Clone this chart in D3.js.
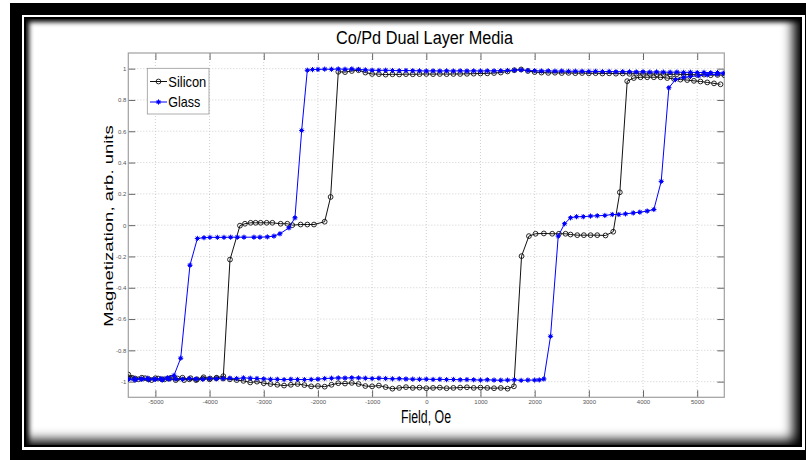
<!DOCTYPE html>
<html>
<head>
<meta charset="utf-8">
<script src="https://cdn.jsdelivr.net/npm/d3@7"></script>
<style>
  html, body { margin: 0; padding: 0; background: #fff; }
  #page { position: relative; width: 806px; height: 460px; overflow: hidden; }
  .frame-outer { position: absolute; left: 10px; top: 3px; width: 796px; height: 457px; background: #000; }
  .frame-line { position: absolute; left: 22px; top: 15px; width: 783px; height: 435px; background: #fff; }
  .frame-inner { position: absolute; left: 24px; top: 17px; width: 778px; height: 430px; box-sizing: border-box;
    background: #fff; border: 2px solid #000;
    box-shadow: inset 3px 3px 5px #000, inset -9px -7px 12px -2px #000; }
  svg { position: absolute; left: 0; top: 0; }
  text { font-family: "Liberation Sans", Arial, sans-serif; }
</style>
</head>
<body>
<div id="page">
  <div class="frame-outer"></div>
  <div class="frame-line"></div>
  <div class="frame-inner"></div>
</div>
<script>
// Co/Pd dual layer hysteresis loops, [field (Oe), magnetization (arb.)]
const siliconDown = [
  [5500,0.958],[5375,0.96],[5250,0.958],[5125,0.962],[5000,0.96],[4875,0.963],[4750,0.962],[4625,0.965],
  [4500,0.963],[4375,0.966],[4250,0.965],[4125,0.967],[4000,0.966],[3875,0.968],[3750,0.967],[3625,0.969],
  [3500,0.968],[3375,0.97],[3250,0.969],[3125,0.971],[3000,0.97],[2875,0.972],[2750,0.971],[2625,0.973],
  [2500,0.972],[2375,0.974],[2250,0.973],[2125,0.975],[2000,0.978],[1875,0.985],[1750,0.995],[1625,0.99],
  [1500,0.982],[1375,0.975],[1250,0.972],[1125,0.97],[1000,0.969],[875,0.968],[750,0.967],[625,0.966],
  [500,0.966],[375,0.965],[250,0.966],[125,0.965],[0,0.966],[-125,0.965],[-250,0.964],[-375,0.965],
  [-500,0.963],[-625,0.964],[-750,0.962],[-875,0.965],[-1000,0.966],[-1125,0.975],[-1250,0.99],[-1375,0.985],
  [-1500,0.978],[-1624,0.98],[-1766,0.18],[-1876,0.022],[-2073,0.004],[-2196,0.004],[-2319,0.004],[-2473,0.0],
  [-2565,0.009],[-2688,0.009],[-2841,0.015],[-2946,0.015],[-3057,0.015],[-3150,0.015],[-3242,0.015],[-3347,0.009],
  [-3439,-0.003],[-3623,-0.22],[-3746,-0.965],[-3870,-0.975],[-3990,-0.98],[-4110,-0.972],[-4230,-0.985],[-4350,-0.978],
  [-4470,-0.99],[-4590,-0.98],[-4710,-0.975],[-4830,-0.985],[-4950,-0.98],[-5070,-0.99],[-5190,-0.978],[-5310,-0.985],
  [-5430,-0.975],[-5500,-0.98]
];
const siliconUp = [
  [-5500,-0.955],[-5375,-0.98],[-5250,-0.975],[-5125,-0.985],[-5000,-0.978],[-4875,-0.985],[-4750,-0.98],[-4625,-0.99],
  [-4500,-0.975],[-4375,-0.985],[-4250,-0.99],[-4125,-0.98],[-4000,-0.985],[-3875,-0.978],[-3750,-0.98],[-3625,-0.985],
  [-3500,-0.99],[-3375,-0.995],[-3250,-1.005],[-3125,-1.0],[-3000,-1.01],[-2875,-1.015],[-2750,-1.02],[-2625,-1.025],
  [-2500,-1.02],[-2375,-1.015],[-2250,-1.022],[-2125,-1.03],[-2000,-1.028],[-1875,-1.032],[-1750,-1.02],[-1625,-1.01],
  [-1500,-1.012],[-1375,-1.008],[-1250,-1.015],[-1125,-1.028],[-1000,-1.03],[-875,-1.025],[-750,-1.035],[-625,-1.045],
  [-500,-1.04],[-375,-1.035],[-250,-1.04],[-125,-1.038],[0,-1.042],[125,-1.04],[250,-1.038],[375,-1.042],
  [500,-1.04],[625,-1.038],[750,-1.036],[875,-1.04],[1000,-1.038],[1125,-1.04],[1250,-1.042],[1375,-1.04],
  [1500,-1.045],[1617,-1.03],[1758,-0.198],[1894,-0.07],[2017,-0.055],[2170,-0.053],[2324,-0.055],[2447,-0.055],
  [2570,-0.055],[2662,-0.06],[2786,-0.064],[2908,-0.064],[3032,-0.064],[3155,-0.064],[3308,-0.066],[3450,-0.042],
  [3572,0.21],[3708,0.92],[3830,0.94],[3954,0.945],[4077,0.945],[4200,0.945],[4323,0.945],[4447,0.94],
  [4570,0.935],[4690,0.93],[4815,0.927],[4940,0.922],[5060,0.918],[5185,0.912],[5310,0.906],[5430,0.9]
];
const glassDown = [
  [5500,0.972],[5375,0.975],[5250,0.974],[5125,0.976],[5000,0.975],[4875,0.977],[4750,0.976],[4625,0.978],
  [4500,0.977],[4375,0.978],[4250,0.979],[4125,0.978],[4000,0.98],[3875,0.979],[3750,0.98],[3625,0.981],
  [3500,0.98],[3375,0.982],[3250,0.981],[3125,0.983],[3000,0.982],[2875,0.983],[2750,0.984],[2625,0.983],
  [2500,0.985],[2375,0.984],[2250,0.986],[2125,0.985],[2000,0.987],[1875,0.988],[1750,0.992],[1625,0.99],
  [1500,0.988],[1375,0.987],[1250,0.986],[1125,0.986],[1000,0.985],[875,0.986],[750,0.985],[625,0.986],
  [500,0.985],[375,0.986],[250,0.985],[125,0.986],[0,0.985],[-125,0.986],[-250,0.987],[-375,0.988],
  [-500,0.987],[-625,0.988],[-750,0.99],[-875,0.989],[-1000,0.99],[-1125,0.992],[-1250,0.995],[-1375,0.998],
  [-1500,0.996],[-1625,0.998],[-1750,0.996],[-1875,0.997],[-2000,0.995],[-2100,0.994],[-2196,0.99],[-2300,0.605],
  [-2424,0.047],[-2535,-0.017],[-2701,-0.055],[-2812,-0.07],[-2934,-0.075],[-3070,-0.077],[-3181,-0.077],[-3365,-0.077],
  [-3488,-0.077],[-3611,-0.077],[-3734,-0.078],[-3856,-0.078],[-3993,-0.078],[-4103,-0.08],[-4225,-0.085],[-4362,-0.256],
  [-4533,-0.85],[-4656,-0.96],[-4780,-0.975],[-4900,-0.98],[-5020,-0.985],[-5140,-0.978],[-5260,-0.983],[-5380,-0.98],
  [-5500,-0.985]
];
const glassUp = [
  [-5500,-0.985],[-5375,-0.99],[-5250,-0.985],[-5125,-0.988],[-5000,-0.985],[-4875,-0.99],[-4750,-0.985],[-4625,-0.983],
  [-4500,-0.985],[-4375,-0.98],[-4250,-0.983],[-4125,-0.985],[-4000,-0.98],[-3875,-0.982],[-3750,-0.98],[-3625,-0.978],
  [-3500,-0.98],[-3375,-0.976],[-3250,-0.978],[-3125,-0.98],[-3000,-0.982],[-2875,-0.985],[-2750,-0.985],[-2625,-0.987],
  [-2500,-0.985],[-2375,-0.986],[-2250,-0.987],[-2125,-0.986],[-2000,-0.984],[-1875,-0.98],[-1750,-0.978],[-1625,-0.976],
  [-1500,-0.977],[-1375,-0.975],[-1250,-0.976],[-1125,-0.978],[-1000,-0.98],[-875,-0.978],[-750,-0.98],[-625,-0.982],
  [-500,-0.981],[-375,-0.983],[-250,-0.984],[-125,-0.985],[0,-0.984],[125,-0.986],[250,-0.985],[375,-0.987],
  [500,-0.986],[625,-0.988],[750,-0.987],[875,-0.988],[1000,-0.99],[1125,-0.988],[1250,-0.99],[1375,-0.991],
  [1500,-0.99],[1625,-0.988],[1750,-0.992],[1875,-0.99],[2000,-0.99],[2085,-0.989],[2170,-0.983],[2293,-0.71],
  [2435,-0.07],[2552,0.009],[2662,0.047],[2773,0.054],[2897,0.054],[3031,0.058],[3155,0.06],[3296,0.062],
  [3432,0.068],[3554,0.068],[3677,0.072],[3819,0.078],[3941,0.083],[4077,0.09],[4200,0.1],[4336,0.28],
  [4477,0.878],[4600,0.93],[4753,0.945],[4877,0.95],[5030,0.955],[5185,0.96],[5369,0.965],[5490,0.97]
];

const seriesNames = ['Silicon', 'Glass'];
const seriesColors = ['#111111', '#0000ff'];
const xTicks = [-5000, -4000, -3000, -2000, -1000, 0, 1000, 2000, 3000, 4000, 5000];
const yTicks = [-1, -0.8, -0.6, -0.4, -0.2, 0, 0.2, 0.4, 0.6, 0.8, 1];

const plot = {left: 128.3, right: 724.3, top: 53, bottom: 397.3};

const svg = d3.select('#page').append('svg')
  .attr('width', 806)
  .attr('height', 460);

const x = d3.scaleLinear().domain([-5500, 5500]).range([plot.left, plot.right]);
const y = d3.scaleLinear().domain([-1.1, 1.1]).range([plot.bottom, plot.top]);

// plot background
svg.append('rect')
  .attr('x', plot.left).attr('y', plot.top)
  .attr('width', plot.right - plot.left).attr('height', plot.bottom - plot.top)
  .attr('fill', '#fff');

// dotted grid
const grid = svg.append('g').attr('stroke', '#c4c4c4').attr('stroke-width', 0.8).attr('stroke-dasharray', '1,2');
grid.selectAll('.gx').data(xTicks).enter().append('line')
  .attr('x1', d => x(d)).attr('x2', d => x(d))
  .attr('y1', plot.top).attr('y2', plot.bottom);
grid.selectAll('.gy').data(yTicks).enter().append('line')
  .attr('x1', plot.left).attr('x2', plot.right)
  .attr('y1', d => y(d)).attr('y2', d => y(d));

// axes with inward ticks on all four sides
const fmtY = d => String(+d.toFixed(1));
function styleAxis(g) {
  g.select('.domain').remove();
  g.selectAll('.tick line').attr('stroke', '#666');
  g.selectAll('.tick text').attr('fill', '#555').attr('font-size', 6)
    .attr('font-family', '"Liberation Sans", Arial, sans-serif');
}
svg.append('g').attr('transform', 'translate(0,' + plot.bottom + ')')
  .call(d3.axisBottom(x).tickValues(xTicks).tickFormat(d => String(d)).tickSize(-7).tickPadding(2))
  .call(styleAxis);
svg.append('g').attr('transform', 'translate(0,' + plot.top + ')')
  .call(d3.axisTop(x).tickValues(xTicks).tickFormat('').tickSize(-7))
  .call(styleAxis);
svg.append('g').attr('transform', 'translate(' + plot.left + ',0)')
  .call(d3.axisLeft(y).tickValues(yTicks).tickFormat(fmtY).tickSize(-7).tickPadding(2))
  .call(styleAxis);
svg.append('g').attr('transform', 'translate(' + plot.right + ',0)')
  .call(d3.axisRight(y).tickValues(yTicks).tickFormat('').tickSize(-7))
  .call(styleAxis);

// box
svg.append('rect')
  .attr('x', plot.left).attr('y', plot.top)
  .attr('width', plot.right - plot.left).attr('height', plot.bottom - plot.top)
  .attr('fill', 'none').attr('stroke', '#a0a0a0').attr('stroke-width', 1.2);

// data
svg.append('clipPath').attr('id', 'clip').append('rect')
  .attr('x', plot.left).attr('y', plot.top)
  .attr('width', plot.right - plot.left).attr('height', plot.bottom - plot.top);
const dataG = svg.append('g').attr('clip-path', 'url(#clip)');

const line = d3.line().x(d => x(d[0])).y(d => y(d[1]));
const starPath = 'M-2.6,0H2.6M0,-2.6V2.6M-1.8,-1.8L1.8,1.8M-1.8,1.8L1.8,-1.8';

function drawCircles(g, data, color) {
  g.selectAll('circle.m').data(data).enter().append('circle')
    .attr('class', 'm')
    .attr('cx', d => x(d[0])).attr('cy', d => y(d[1]))
    .attr('r', 2.4)
    .attr('fill', 'none').attr('stroke', color).attr('stroke-width', 0.9);
}
function drawStars(g, data, color) {
  const m = g.selectAll('g.m').data(data).enter().append('g')
    .attr('class', 'm')
    .attr('transform', d => 'translate(' + x(d[0]) + ',' + y(d[1]) + ')');
  m.append('circle').attr('r', 1.7).attr('fill', color);
  m.append('path').attr('d', starPath).attr('stroke', color).attr('stroke-width', 1);
}

const silicon = siliconDown.concat(siliconUp);
const glass = glassDown.concat(glassUp);

const gSi = dataG.append('g');
gSi.append('path').datum(silicon).attr('d', line)
  .attr('fill', 'none').attr('stroke', seriesColors[0]).attr('stroke-width', 1);
drawCircles(gSi, silicon, seriesColors[0]);

const gGl = dataG.append('g');
gGl.append('path').datum(glass).attr('d', line)
  .attr('fill', 'none').attr('stroke', seriesColors[1]).attr('stroke-width', 1);
drawStars(gGl, glass, seriesColors[1]);

// legend
const legend = svg.append('g');
legend.append('rect')
  .attr('x', 147.3).attr('y', 68.3).attr('width', 61.7).attr('height', 45.7)
  .attr('fill', '#fff').attr('stroke', '#999').attr('stroke-width', 0.8);
const legendRows = [81.5, 102];
seriesNames.forEach((name, i) => {
  const ly = legendRows[i];
  legend.append('line').attr('x1', 150).attr('x2', 167).attr('y1', ly).attr('y2', ly)
    .attr('stroke', seriesColors[i]).attr('stroke-width', 1);
  const lg = legend.append('g');
  if (i === 0) drawCircles(lg, [[x.invert(158.5), y.invert(ly)]], seriesColors[i]);
  else drawStars(lg, [[x.invert(158.5), y.invert(ly)]], seriesColors[i]);
  legend.append('text').attr('x', 168.3).attr('y', ly + 5.2)
    .attr('font-size', 14.8).attr('fill', '#000')
    .attr('textLength', i === 0 ? 38 : 32).attr('lengthAdjust', 'spacingAndGlyphs')
    .text(name);
});

// titles
svg.append('text')
  .attr('x', 424.5).attr('y', 44)
  .attr('text-anchor', 'middle').attr('font-size', 18).attr('fill', '#000')
  .attr('textLength', 177).attr('lengthAdjust', 'spacingAndGlyphs')
  .text('Co/Pd Dual Layer Media');
svg.append('text')
  .attr('x', 426).attr('y', 423.3)
  .attr('text-anchor', 'middle').attr('font-size', 17.5).attr('fill', '#000')
  .attr('textLength', 50).attr('lengthAdjust', 'spacingAndGlyphs')
  .text('Field, Oe');
svg.append('text')
  .attr('transform', 'translate(113.3,226) scale(0.72,1) rotate(-90)')
  .attr('text-anchor', 'middle').attr('font-size', 18.5).attr('fill', '#000')
  .text('Magnetization, arb. units');
</script>
</body>
</html>
